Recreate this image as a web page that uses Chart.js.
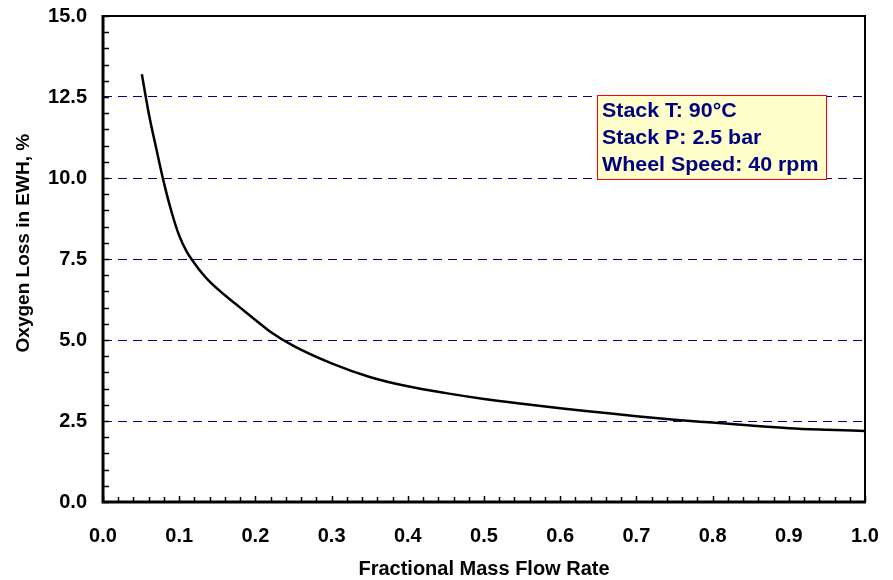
<!DOCTYPE html>
<html>
<head>
<meta charset="utf-8">
<title>Oxygen Loss in EWH</title>
<script src="https://cdn.jsdelivr.net/npm/chart.js@4.4.1/dist/chart.umd.min.js"></script>
<style>
  html, body { margin: 0; padding: 0; background: #fff; }
  #wrap { width: 893px; height: 580px; position: relative; }
</style>
</head>
<body>
<div id="wrap"><canvas id="o2Chart"></canvas></div>
<script>
// values
const flowRate = [0.051, 0.06, 0.07, 0.08, 0.09, 0.10, 0.11, 0.12, 0.13, 0.14, 0.16, 0.18, 0.20, 0.22, 0.25,
                  0.30, 0.35, 0.40, 0.45, 0.50, 0.55, 0.60, 0.65, 0.70, 0.75, 0.80, 0.85, 0.90, 0.95, 1.00];
const o2Loss   = [13.2, 12.0, 10.9, 9.85, 8.95, 8.22, 7.72, 7.37, 7.06, 6.8, 6.38, 6.0, 5.62, 5.25, 4.82,
                  4.28, 3.86, 3.57, 3.36, 3.18, 3.03, 2.89, 2.77, 2.65, 2.54, 2.45, 2.36, 2.28, 2.23, 2.19];

const xTickLabels = ['0.0', '0.1', '0.2', '0.3', '0.4', '0.5', '0.6', '0.7', '0.8', '0.9', '1.0'];
const yTickLabels = ['0.0', '2.5', '5.0', '7.5', '10.0', '12.5', '15.0'];
const noteLines = ['Stack T: 90°C', 'Stack P: 2.5 bar', 'Wheel Speed: 40 rpm'];

const NAVY = '#000080';
const FONT = '"Liberation Sans", Arial, sans-serif';

function onStep(v, step) {
    return Math.abs(v / step - Math.round(v / step)) < 1e-6;
}

// frame, inward tick marks and the conditions box
const frameAndNote = {
    id: 'frameAndNote',
    afterDatasetsDraw(chart) {
        const { ctx, chartArea: a, scales } = chart;
        ctx.save();

        ctx.strokeStyle = '#000';
        ctx.lineWidth = 1.5;
        scales.x.ticks.forEach(t => {
            const px = Math.round(scales.x.getPixelForValue(t.value)) + 0.5;
            const len = t.label ? 6 : 5;
            ctx.beginPath(); ctx.moveTo(px, a.bottom); ctx.lineTo(px, a.bottom - len); ctx.stroke();
        });
        scales.y.ticks.forEach(t => {
            const py = Math.round(scales.y.getPixelForValue(t.value)) + 0.5;
            ctx.beginPath(); ctx.moveTo(a.left, py); ctx.lineTo(a.left + 6, py); ctx.stroke();
        });

        // axis box: heavier left/bottom
        ctx.lineWidth = 2;
        ctx.beginPath();
        ctx.moveTo(a.left, a.top); ctx.lineTo(a.right, a.top); ctx.lineTo(a.right, a.bottom);
        ctx.stroke();
        ctx.lineWidth = 3;
        ctx.beginPath();
        ctx.moveTo(a.left, a.top - 1); ctx.lineTo(a.left, a.bottom); ctx.lineTo(a.right + 1, a.bottom);
        ctx.stroke();

        // conditions box
        const bx = a.left + 494, by = a.top + 79, bw = 229, bh = 84;
        ctx.fillStyle = '#FFFFCC';
        ctx.fillRect(bx, by, bw, bh);
        ctx.strokeStyle = '#FF0000';
        ctx.lineWidth = 1;
        ctx.strokeRect(bx + 0.5, by + 0.5, bw, bh);

        ctx.fillStyle = NAVY;
        ctx.font = 'bold 20px ' + FONT;
        ctx.textBaseline = 'alphabetic';
        ctx.textAlign = 'left';
        noteLines.forEach((line, i) => {
            ctx.save();
            ctx.translate(bx + 5, by + 22 + i * 27);
            ctx.scale(1.07, 1);
            ctx.fillText(line, 0, 0);
            ctx.restore();
        });
        ctx.restore();
    }
};

new Chart(document.getElementById('o2Chart'), {
    type: 'scatter',
    data: {
        datasets: [{
            label: 'Oxygen Loss',
            data: flowRate.map((x, i) => ({ x: x, y: o2Loss[i] })),
            showLine: true,
            borderColor: '#000',
            borderWidth: 2.5,
            pointRadius: 0,
            cubicInterpolationMode: 'monotone',
            fill: false
        }]
    },
    options: {
        responsive: true,
        maintainAspectRatio: false,
        animation: false,
        layout: { padding: { top: 16, right: 28, left: 0, bottom: 0 } },
        plugins: { legend: { display: false }, tooltip: { enabled: false } },
        scales: {
            x: {
                type: 'linear',
                min: 0, max: 1,
                afterFit: s => { s.height = 78; s.paddingLeft = 0; s.paddingRight = 0; },
                grid: { display: false, drawTicks: false },
                border: { display: false },
                ticks: {
                    stepSize: 0.02,
                    maxTicksLimit: 100,
                    autoSkip: false,
                    maxRotation: 0, minRotation: 0,
                    padding: 22,
                    color: '#000',
                    font: { family: FONT, size: 20, weight: 'bold' },
                    callback: v => onStep(v, 0.1) ? xTickLabels[Math.round(v * 10)] : ''
                },
                title: {
                    display: true,
                    text: 'Fractional Mass Flow Rate',
                    color: '#000',
                    font: { family: FONT, size: 20, weight: 'bold' },
                    padding: { top: 0, bottom: -1 }
                }
            },
            y: {
                type: 'linear',
                min: 0, max: 15,
                afterFit: s => { s.width = 103; s.paddingTop = 0; s.paddingBottom = 0; },
                grid: {
                    drawTicks: false,
                    lineWidth: 1,
                    color: c => (onStep(c.tick.value, 2.5) && c.tick.value > 0 && c.tick.value < 15) ? NAVY : 'rgba(0,0,0,0)'
                },
                border: { display: false, dash: [9, 6] },
                ticks: {
                    stepSize: 0.5,
                    maxTicksLimit: 100,
                    autoSkip: false,
                    padding: 16,
                    color: '#000',
                    font: { family: FONT, size: 20, weight: 'bold' },
                    callback: v => onStep(v, 2.5) ? yTickLabels[Math.round(v / 2.5)] : ''
                },
                title: {
                    display: true,
                    // leading spaces push the rotated title up, as in the original
                    text: '      Oxygen Loss in EWH, %',
                    color: '#000',
                    font: { family: FONT, size: 19, weight: 'bold' },
                    padding: { top: 12, bottom: 0 }
                }
            }
        }
    },
    plugins: [frameAndNote]
});
</script>
</body>
</html>
